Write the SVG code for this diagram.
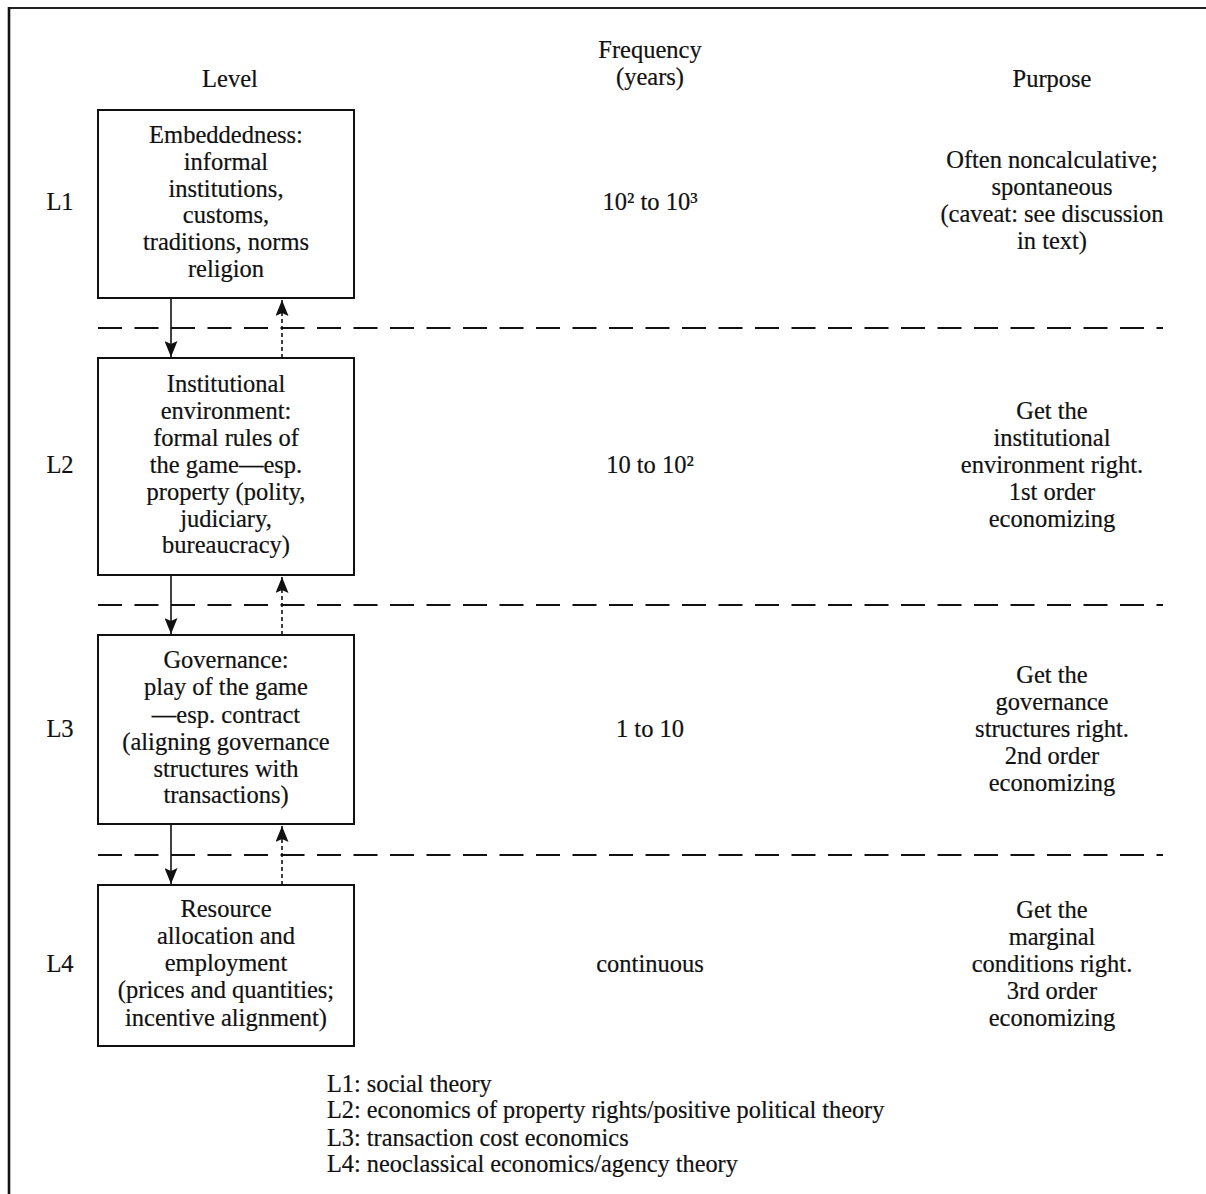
<svg xmlns="http://www.w3.org/2000/svg" width="1206" height="1194" viewBox="0 0 1206 1194">
<style>
text{font-family:"Liberation Serif","Times New Roman",serif;font-size:24.5px;fill:#111;stroke:#111;stroke-width:0.2;}
.c{text-anchor:middle;}
.box{fill:#fff;stroke:#111;stroke-width:2;}
.sep{stroke:#111;stroke-width:2.2;stroke-dasharray:24 12.5;fill:none;}
.down{stroke:#111;stroke-width:1.6;fill:none;}
.up{stroke:#111;stroke-width:1.6;stroke-dasharray:4 3;fill:none;}
.foot{font-size:24.3px;}
</style>
<defs>
<marker id="ah" viewBox="0 0 16 13" refX="16" refY="6.5" markerWidth="16" markerHeight="13" markerUnits="userSpaceOnUse" orient="auto">
<path d="M0,0 L3,6.5 L0,13 L16,6.5 Z" fill="#111"/>
</marker>
</defs>
<rect width="1206" height="1194" fill="#fff"/>
<g id="frame">
<line x1="9" y1="8" x2="1206" y2="8" stroke="#222" stroke-width="2.2"/>
<line x1="9" y1="7" x2="9" y2="1194" stroke="#111" stroke-width="2.6"/>
</g>
<g id="headers">
<text class="c" x="230" y="87">Level</text>
<text class="c" x="650" y="58">Frequency</text>
<text class="c" x="650" y="85">(years)</text>
<text class="c" x="1052" y="87">Purpose</text>
</g>
<g id="separators">
<line class="sep" x1="98" y1="328" x2="1163" y2="328"/>
<line class="sep" x1="98" y1="605" x2="1163" y2="605"/>
<line class="sep" x1="98" y1="855" x2="1163" y2="855"/>
</g>
<g id="connectors">
<line class="down" x1="171" y1="298" x2="171" y2="357" marker-end="url(#ah)"/>
<line class="up" x1="282" y1="358" x2="282" y2="300" marker-end="url(#ah)"/>
<line class="down" x1="171" y1="575" x2="171" y2="634" marker-end="url(#ah)"/>
<line class="up" x1="282" y1="635" x2="282" y2="577" marker-end="url(#ah)"/>
<line class="down" x1="171" y1="824" x2="171" y2="884" marker-end="url(#ah)"/>
<line class="up" x1="282" y1="885" x2="282" y2="826" marker-end="url(#ah)"/>
</g>
<g id="L1">
<text class="c" x="60" y="210">L1</text>
<rect class="box" x="98" y="110" width="256" height="188"/>
<text class="c" x="226" y="143">Embeddedness:</text>
<text class="c" x="226" y="170">informal</text>
<text class="c" x="226" y="196.5">institutions,</text>
<text class="c" x="226" y="223">customs,</text>
<text class="c" x="226" y="250">traditions, norms</text>
<text class="c" x="226" y="277">religion</text>
<text class="c" x="650" y="210">10² to 10³</text>
<text class="c" x="1052" y="168">Often noncalculative;</text>
<text class="c" x="1052" y="195">spontaneous</text>
<text class="c" x="1052" y="222">(caveat: see discussion</text>
<text class="c" x="1052" y="249">in text)</text>
</g>
<g id="L2">
<text class="c" x="60" y="473">L2</text>
<rect class="box" x="98" y="358" width="256" height="217"/>
<text class="c" x="226" y="392">Institutional</text>
<text class="c" x="226" y="419">environment:</text>
<text class="c" x="226" y="446">formal rules of</text>
<text class="c" x="226" y="473">the game—esp.</text>
<text class="c" x="226" y="500">property (polity,</text>
<text class="c" x="226" y="527">judiciary,</text>
<text class="c" x="226" y="553">bureaucracy)</text>
<text class="c" x="650" y="473">10 to 10²</text>
<text class="c" x="1052" y="419">Get the</text>
<text class="c" x="1052" y="446">institutional</text>
<text class="c" x="1052" y="473">environment right.</text>
<text class="c" x="1052" y="500">1st order</text>
<text class="c" x="1052" y="527">economizing</text>
</g>
<g id="L3">
<text class="c" x="60" y="737">L3</text>
<rect class="box" x="98" y="635" width="256" height="189"/>
<text class="c" x="226" y="668">Governance:</text>
<text class="c" x="226" y="695">play of the game</text>
<text class="c" x="226" y="723">—esp. contract</text>
<text class="c" x="226" y="750">(aligning governance</text>
<text class="c" x="226" y="777">structures with</text>
<text class="c" x="226" y="803">transactions)</text>
<text class="c" x="650" y="737">1 to 10</text>
<text class="c" x="1052" y="683">Get the</text>
<text class="c" x="1052" y="710">governance</text>
<text class="c" x="1052" y="737">structures right.</text>
<text class="c" x="1052" y="764">2nd order</text>
<text class="c" x="1052" y="791">economizing</text>
</g>
<g id="L4">
<text class="c" x="60" y="972">L4</text>
<rect class="box" x="98" y="885" width="256" height="161"/>
<text class="c" x="226" y="917">Resource</text>
<text class="c" x="226" y="944">allocation and</text>
<text class="c" x="226" y="971">employment</text>
<text class="c" x="226" y="998">(prices and quantities;</text>
<text class="c" x="226" y="1026">incentive alignment)</text>
<text class="c" x="650" y="972">continuous</text>
<text class="c" x="1052" y="918">Get the</text>
<text class="c" x="1052" y="945">marginal</text>
<text class="c" x="1052" y="972">conditions right.</text>
<text class="c" x="1052" y="999">3rd order</text>
<text class="c" x="1052" y="1026">economizing</text>
</g>
<g id="legend">
<text class="foot" x="327" y="1092">L1: social theory</text>
<text class="foot" x="327" y="1118">L2: economics of property rights/positive political theory</text>
<text class="foot" x="327" y="1146">L3: transaction cost economics</text>
<text class="foot" x="327" y="1172">L4: neoclassical economics/agency theory</text>
</g>
</svg>
